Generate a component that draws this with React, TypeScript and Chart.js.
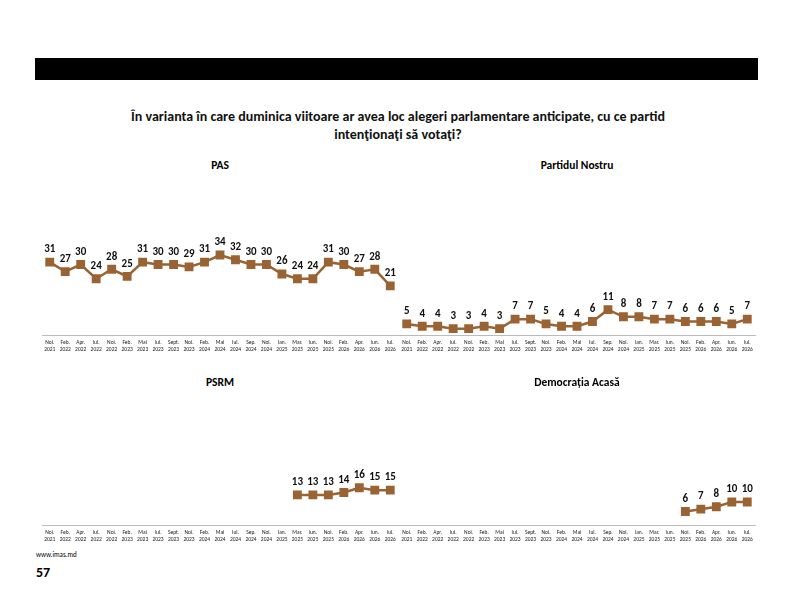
import React, { useEffect, useRef } from "react";
import { Chart, registerables } from "chart.js";
Chart.register(...registerables);

const months = ["Noi.","Feb.","Apr.","Iul.","Noi.","Feb.","Mai","Iul.","Sept.","Noi.","Feb.","Mai","Iul.","Sep.","Noi.","Ian.","Mar.","Iun.","Noi.","Feb.","Apr.","Iun.","Iul."];
const years = ["2021","2022","2022","2022","2022","2023","2023","2023","2023","2023","2024","2024","2024","2024","2024","2025","2025","2025","2025","2026","2026","2026","2026"];
const pas = [31,27,30,24,28,25,31,30,30,29,31,34,32,30,30,26,24,24,31,30,27,28,21];
const nostru = [5,4,4,3,3,4,3,7,7,5,4,4,6,11,8,8,7,7,6,6,6,5,7];
const psrm = [null,null,null,null,null,null,null,null,null,null,null,null,null,null,null,null,13,13,13,14,16,15,15];
const democratia = [null,null,null,null,null,null,null,null,null,null,null,null,null,null,null,null,null,null,6,7,8,10,10];

const BROWN = "#9a6333";
const FONT = "Carlito, 'Liberation Sans', Arial, sans-serif";

const labelPlugin = {
  id: "vals",
  afterDatasetsDraw(chart: any) {
    const ctx = chart.ctx;
    const meta = chart.getDatasetMeta(0);
    const data = chart.data.datasets[0].data;
    ctx.save();
    ctx.font = `bold 11px ${FONT}`;
    ctx.fillStyle = "#111";
    ctx.textAlign = "center";
    ctx.textBaseline = "bottom";
    meta.data.forEach((p: any, i: number) => {
      if (data[i] == null) return;
      ctx.fillText(String(data[i]), p.x, p.y - 7);
    });
    ctx.restore();
  },
};

const W = 370;

function Panel({ data, left, top, titleTop, title }: { data: (number | null)[]; left: number; top: number; titleTop: number; title: string }) {
  const ref = useRef<HTMLCanvasElement>(null);
  useEffect(() => {
    const c = new Chart(ref.current!, {
      type: "line",
      data: {
        labels: months.map((m, i) => [m, years[i]]),
        datasets: [{
          data,
          borderColor: BROWN,
          backgroundColor: BROWN,
          borderWidth: 2.5,
          pointStyle: "rect",
          pointRadius: 4.5,
          spanGaps: false,
        }],
      },
      options: {
        animation: false,
        responsive: false,
        maintainAspectRatio: false,
        layout: { padding: { left: 4, right: 4, top: 0, bottom: 0 } },
        plugins: { legend: { display: false }, tooltip: { enabled: false } },
        scales: {
          x: {
            offset: true,
            grid: { display: false, drawTicks: false },
            border: { color: "#bbb" },
            ticks: { font: { size: 5.5, family: FONT }, color: "#222", maxRotation: 0, autoSkip: false, padding: 4 },
          },
          y: { display: false, min: 0, max: 66 },
        },
      },
      plugins: [labelPlugin],
    });
    return () => c.destroy();
  }, []);
  return (
    <>
      <div style={{ position: "absolute", left, top: titleTop, width: W, textAlign: "center", font: `bold 11.5px ${FONT}` }}>{title}</div>
      <canvas ref={ref} width={W} height={185} style={{ position: "absolute", left, top }} />
    </>
  );
}

export default function App() {
  return (
    <div style={{ position: "relative", margin: -8, width: 793, height: 595, fontFamily: FONT, background: "#fff" }}>
      <div style={{ position: "absolute", left: 35, top: 58, width: 723, height: 22, background: "#000" }} />
      <div style={{ position: "absolute", left: 0, top: 108, width: 796, textAlign: "center", font: `bold 14px ${FONT}`, lineHeight: "18px", color: "#111" }}>
        În varianta în care duminica viitoare ar avea loc alegeri parlamentare anticipate, cu ce partid<br />intenţionaţi să votaţi?
      </div>
      <Panel data={pas} left={35} top={172} titleTop={158} title="PAS" />
      <Panel data={nostru} left={392} top={172} titleTop={158} title="Partidul Nostru" />
      <Panel data={psrm} left={35} top={362} titleTop={375} title="PSRM" />
      <Panel data={democratia} left={392} top={362} titleTop={375} title="Democrația Acasă" />
      <div style={{ position: "absolute", left: 36, top: 550, font: `7px ${FONT}` }}>www.imas.md</div>
      <div style={{ position: "absolute", left: 36, top: 564, font: `bold 14px ${FONT}` }}>57</div>
    </div>
  );
}
